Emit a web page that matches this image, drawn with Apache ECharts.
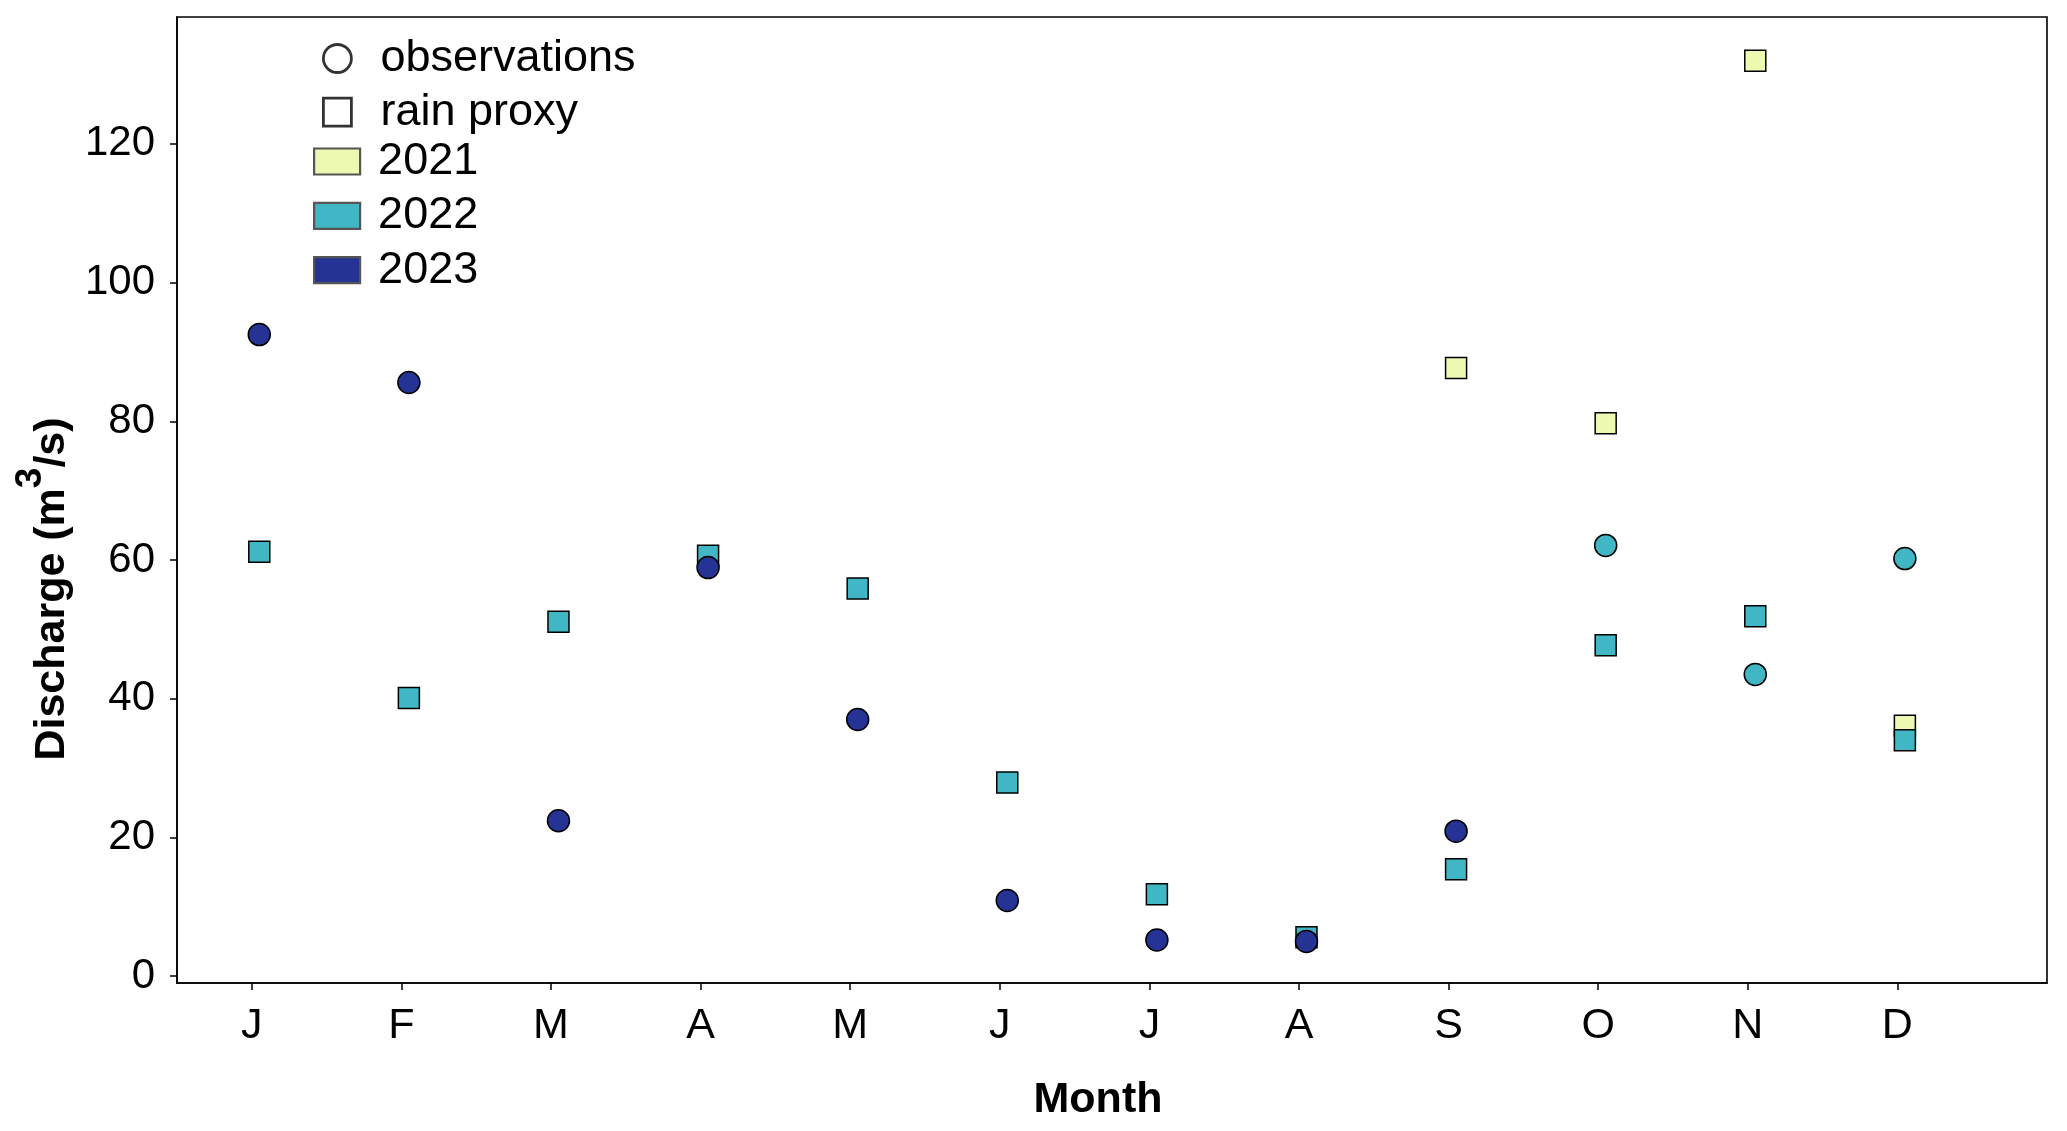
<!DOCTYPE html>
<html>
<head>
<meta charset="utf-8">
<script src="https://cdn.jsdelivr.net/npm/echarts@6/dist/echarts.min.js"></script>
<style>
  html, body { margin: 0; padding: 0; background: #fff; }
  #chart { width: 2067px; height: 1131px; }
</style>
</head>
<body>
<div id="chart"></div>
<script>
// ---- data ----
const months = ['J', 'F', 'M', 'A', 'M', 'J', 'J', 'A', 'S', 'O', 'N', 'D'];
const yTicks = [0, 20, 40, 60, 80, 100, 120];
// observations (circles)
const obs2023 = [92.5, 85.6, 22.4, 58.9, 37.0, 10.9, 5.2, 5.0, 20.9, null, null, null];
const obs2022 = [null, null, null, null, null, null, null, null, null, 62.1, 43.5, 60.2];
// rain proxy (squares)
const rain2022 = [61.2, 40.1, 51.1, 60.6, 55.9, 27.9, 11.8, 5.6, 15.4, 47.7, 51.9, 34.0];
const rain2021 = [null, null, null, null, null, null, null, null, 87.7, 79.7, 132.0, 36.1];
const years = ['2021', '2022', '2023'];
const yearColors = { '2021': '#EDF8B1', '2022': '#41B6C4', '2023': '#253494' };

const FONT = '"Liberation Sans", Arial, Helvetica, sans-serif';
const xOffset = 0.05;

function toPairs(arr) {
  const out = [];
  arr.forEach((v, i) => { if (v !== null) out.push([i + xOffset, v]); });
  return out;
}

function scatter(name, symbol, size, arr) {
  return {
    name: name,
    type: 'scatter',
    symbol: symbol,
    symbolSize: size,
    data: toPairs(arr),
    itemStyle: { color: yearColors[name], borderColor: '#000', borderWidth: 1.5, opacity: 1 },
    emphasis: { disabled: true }
  };
}

const chart = echarts.init(document.getElementById('chart'), null, { renderer: 'canvas' });

const option = {
  backgroundColor: '#fff',
  animation: false,
  textStyle: { fontFamily: FONT, color: '#000' },
  grid: {
    left: 177, right: 20, top: 17, bottom: 148,
    show: true, borderColor: '#000', borderWidth: 1.6, backgroundColor: 'transparent',
    outerBoundsMode: 'none'
  },
  legend: [
    {
      orient: 'vertical', left: 322, top: 36, padding: 0,
      itemWidth: 28, itemHeight: 28, itemGap: 8.6, selectedMode: false,
      textStyle: { fontFamily: FONT, fontSize: 45, color: '#000', lineHeight: 44, padding: [0, 0, 0, 24] },
      data: [
        { name: 'observations', icon: 'circle', itemStyle: { color: 'rgba(0,0,0,0)', borderColor: '#000', borderWidth: 2.8 } },
        { name: 'rain proxy', icon: 'rect', itemStyle: { color: 'rgba(0,0,0,0)', borderColor: '#000', borderWidth: 2.8 } }
      ]
    },
    {
      orient: 'vertical', left: 313, top: 139, padding: 0,
      itemWidth: 46, itemHeight: 26, itemGap: 9.3, selectedMode: false,
      textStyle: { fontFamily: FONT, fontSize: 45, color: '#000', lineHeight: 44, padding: [0, 0, 0, 13] },
      data: years.map(y => ({ name: y, icon: 'rect', itemStyle: { color: yearColors[y], borderColor: '#555', borderWidth: 2.2 } }))
    }
  ],
  xAxis: {
    type: 'value', min: -0.5, max: 12,
    name: 'Month', nameLocation: 'middle', nameGap: 96,
    nameTextStyle: { fontFamily: FONT, fontSize: 43, fontWeight: 'bold', color: '#000', padding: [0, 28, 0, 0] },
    axisLine: { show: true, onZero: false, lineStyle: { color: '#000', width: 1.6 } },
    axisTick: { show: true, inside: false, length: 7, lineStyle: { color: '#000', width: 1.5 }, customValues: months.map((m, i) => i) },
    axisLabel: { show: true, fontFamily: FONT, fontSize: 43, color: '#000', margin: 22,
      customValues: months.map((m, i) => i), formatter: v => months[Math.round(v)] },
    splitLine: { show: false }
  },
  yAxis: {
    type: 'value', min: -1.0, max: 138.3,
    name: '{a|Discharge (m}{s|3}{a|/s)}', nameLocation: 'middle', nameGap: 84, nameRotate: 90,
    nameTextStyle: {
      color: '#000', padding: [0, 178, 0, 0],
      rich: {
        a: { fontFamily: FONT, fontSize: 43, fontWeight: 'bold', color: '#000', lineHeight: 80, verticalAlign: 'middle' },
        s: { fontFamily: FONT, fontSize: 37, fontWeight: 'bold', color: '#000', lineHeight: 37, verticalAlign: 'top' }
      }
    },
    axisLine: { show: true, onZero: false, lineStyle: { color: '#000', width: 1.6 } },
    axisTick: { show: true, inside: false, length: 7, lineStyle: { color: '#000', width: 1.5 }, customValues: yTicks },
    axisLabel: { show: true, fontFamily: FONT, fontSize: 42, color: '#000', margin: 22, customValues: yTicks },
    splitLine: { show: false }
  },
  series: [
    scatter('2021', 'rect', 21, rain2021),
    scatter('2022', 'rect', 21, rain2022),
    scatter('2022', 'circle', 22, obs2022),
    scatter('2023', 'circle', 22, obs2023),
    { name: 'observations', type: 'scatter', symbol: 'circle', data: [],
      itemStyle: { color: 'rgba(0,0,0,0)', borderColor: '#000', borderWidth: 2.5 } },
    { name: 'rain proxy', type: 'scatter', symbol: 'rect', data: [],
      itemStyle: { color: 'rgba(0,0,0,0)', borderColor: '#000', borderWidth: 2.5 } }
  ]
};

chart.setOption(option);
</script>
</body>
</html>
